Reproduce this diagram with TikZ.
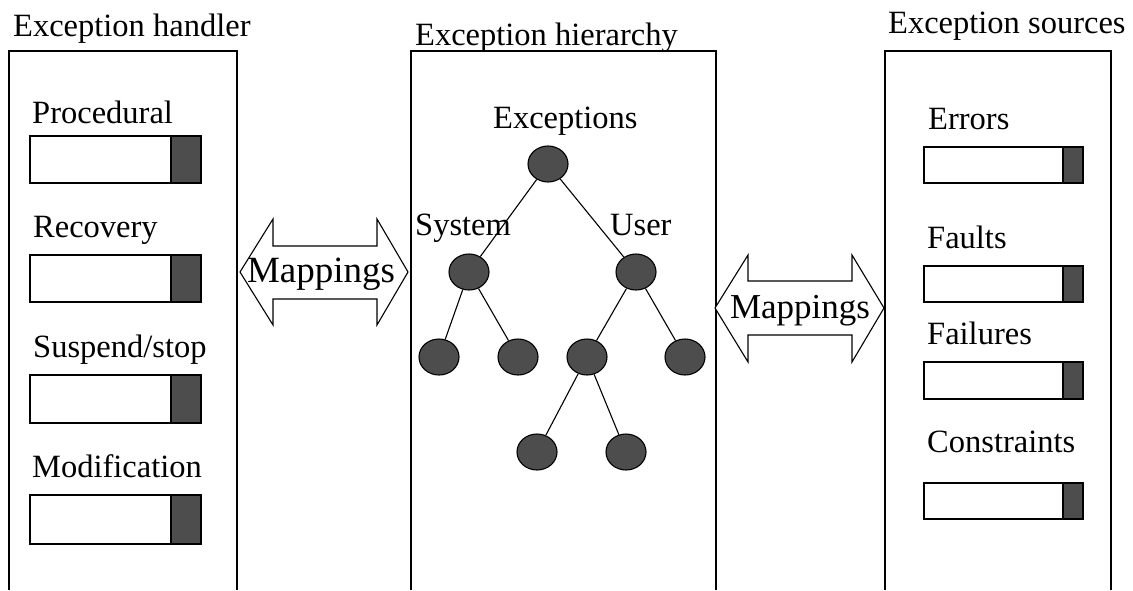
\documentclass[tikz,border=0pt]{standalone}
\usepackage{fontspec}
\setmainfont{Liberation Serif}
\usetikzlibrary{shapes.geometric}
\definecolor{darkfill}{HTML}{4D4D4D}
\begin{document}
\begin{tikzpicture}[x=1pt,y=-1pt,
  lbl/.style={anchor=base west,inner sep=0pt,font=\fontsize{32.5}{39}\selectfont},
  mapl/.style={anchor=base,inner sep=0pt},
  panel/.style={draw=black,line width=1.4pt},
  barbox/.style={draw=black,line width=1.2pt,fill=white},
  bartip/.style={draw=black,line width=1.2pt,fill=darkfill},
  tnode/.style={ellipse,draw=black,line width=1.1pt,fill=darkfill,minimum width=40pt,minimum height=36pt,inner sep=0pt},
  tedge/.style={draw=black,line width=1.1pt},
  dblarrow/.style={draw=black,line width=1.1pt,fill=white,line join=miter}]
\useasboundingbox (0,0) rectangle (1133,590);
\fill[white] (0,0) rectangle (1133,590);

% panels (open at the bottom)
\draw[panel] (9,590) -- (9,51) -- (237,51) -- (237,590);
\draw[panel] (411,590) -- (411,51) -- (716,51) -- (716,590);
\draw[panel] (885,590) -- (885,51) -- (1111,51) -- (1111,590);

% titles
\node[lbl] (t1) at (13,36) {Exception handler};
\node[lbl] (t2) at (415,45) {Exception hierarchy};
\node[lbl] (t3) at (888,33) {Exception sources};

% left column
\node[lbl] (lp) at (32,123) {Procedural};
\node[lbl] (lr) at (33,237) {Recovery};
\node[lbl] (ls) at (33,357) {Suspend/stop};
\node[lbl] (lm) at (32,477) {Modification};
\foreach \ya/\yb in {136/183,255/302,375/423,495/544}{
  \draw[barbox] (30,\ya) rectangle (201,\yb);
  \draw[bartip] (171,\ya) rectangle (201,\yb);
}

% right column
\node[lbl] (re) at (928,129) {Errors};
\node[lbl] (rf) at (927,248) {Faults};
\node[lbl] (ri) at (927,344) {Failures};
\node[lbl] (rc) at (927,452) {Constraints};
\foreach \ya/\yb in {147/183,266/302,362/399,483/519}{
  \draw[barbox] (924,\ya) rectangle (1083,\yb);
  \draw[bartip] (1063,\ya) rectangle (1083,\yb);
}

% double arrows
\draw[dblarrow] (240,272) -- (273,219) -- (273,246) -- (377,246) -- (377,219) -- (408,272)
  -- (377,325) -- (377,299) -- (273,299) -- (273,325) -- cycle;
\node[mapl,font=\fontsize{37}{44}\selectfont] (m1) at (321,282) {Mappings};
\draw[dblarrow] (715,308) -- (748,255) -- (748,281) -- (852,281) -- (852,255) -- (884,308)
  -- (852,362) -- (852,335) -- (748,335) -- (748,362) -- cycle;
\node[mapl,font=\fontsize{35}{42}\selectfont] (m2) at (800,318) {Mappings};

% tree
\node[lbl] (lex) at (493,128) {Exceptions};
\node[lbl] (lsy) at (415,235) {System};
\node[lbl] (lus) at (610,235) {User};
\node[tnode] (root) at (548,164) {};
\node[tnode] (sys) at (469,272) {};
\node[tnode] (usr) at (636,272) {};
\node[tnode] (s1) at (439,357) {};
\node[tnode] (s2) at (518,357) {};
\node[tnode] (u1) at (587,357) {};
\node[tnode] (u2) at (685,357) {};
\node[tnode] (g1) at (537,452) {};
\node[tnode] (g2) at (626,452) {};
\draw[tedge] (root) -- (sys);
\draw[tedge] (root) -- (usr);
\draw[tedge] (sys) -- (s1);
\draw[tedge] (sys) -- (s2);
\draw[tedge] (usr) -- (u1);
\draw[tedge] (usr) -- (u2);
\draw[tedge] (u1) -- (g1);
\draw[tedge] (u1) -- (g2);
\end{tikzpicture}
\end{document}
